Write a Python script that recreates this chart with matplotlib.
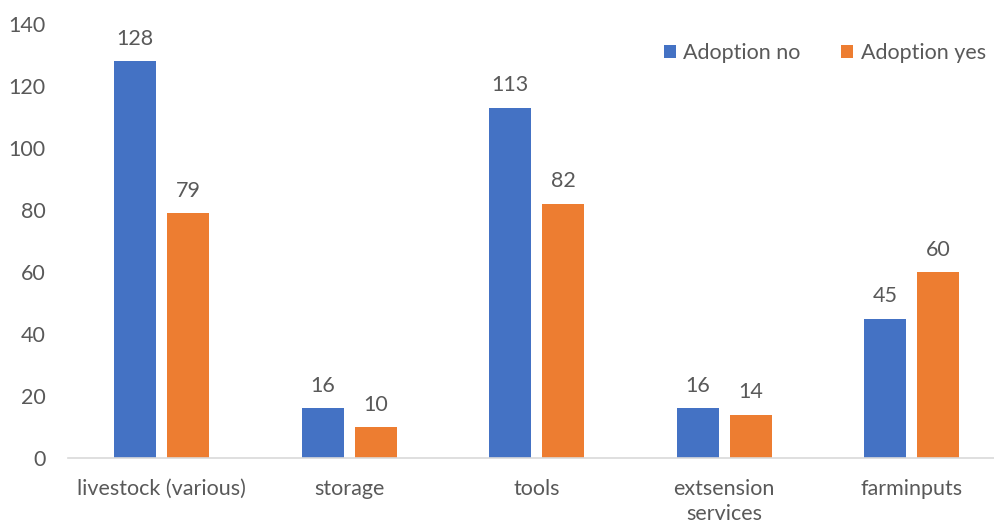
import matplotlib.pyplot as plt
import numpy as np

categories = ["livestock (various)", "storage", "tools", "extsension\nservices", "farminputs"]
adoption_no = [128, 16, 113, 16, 45]
adoption_yes = [79, 10, 82, 14, 60]
y_ticks = [0, 20, 40, 60, 80, 100, 120, 140]

BLUE = "#4472C4"
ORANGE = "#ED7D31"
TEXT = "#595959"
FS = 15.5

plt.rcParams["font.family"] = ["Lato", "DejaVu Sans"]

fig = plt.figure(figsize=(9.94, 5.25), dpi=100)
ax = fig.add_axes([0.0684, 0.1276, 0.943, 0.8267])

x = np.arange(len(categories))
width = 0.224
offset = 0.141

bars_no = ax.bar(x - offset, adoption_no, width, color=BLUE, label="Adoption no")
bars_yes = ax.bar(x + offset, adoption_yes, width, color=ORANGE, label="Adoption yes")

for bars in (bars_no, bars_yes):
    ax.bar_label(bars, padding=9, fontsize=FS, color=TEXT)

ax.set_xlim(-0.5, len(categories) - 0.5)
ax.set_ylim(0, 140)
ax.set_yticks(y_ticks)
ax.set_xticks(x)
ax.set_xticklabels(categories, fontsize=FS, color=TEXT, linespacing=1.3)
ax.tick_params(axis="y", length=0, labelsize=FS, labelcolor=TEXT, pad=16)
ax.tick_params(axis="x", length=0, pad=15)

for side in ("top", "right", "left"):
    ax.spines[side].set_visible(False)
ax.spines["bottom"].set_color("#D9D9D9")
ax.spines["bottom"].set_linewidth(1.2)

ax.legend(
    loc="upper right",
    bbox_to_anchor=(1.0, 1.0),
    ncol=2,
    frameon=False,
    fontsize=FS,
    labelcolor=TEXT,
    handlelength=0.55,
    handleheight=0.55,
    handletextpad=0.35,
    columnspacing=1.9,
)

fig.savefig("out.png", dpi=100)
